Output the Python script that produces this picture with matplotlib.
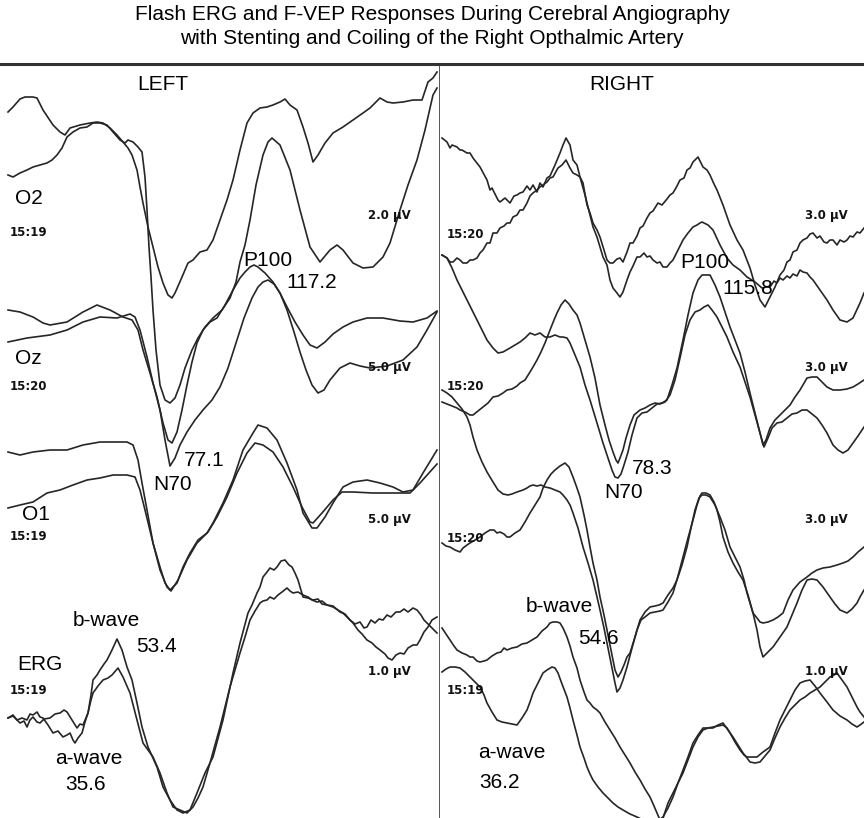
import matplotlib
matplotlib.use("Agg")
import matplotlib.pyplot as plt
import numpy as np

# Each trace is a list of (sample, level) pairs.
# sample = horizontal position in the sweep, level = vertical page position (grows downward)

# ---- LEFT eye ----
L_O2_A = [(8,112),(13,107),(20,99),(25,97),(33,97),(37,98),(43,110),(53,125),(60,132),(65,135),(70,128),
          (80,125),(90,123),(97,122),(103,123),(110,128),(117,135),(123,142),(128,148),(132,155),(137,170),
          (140,187),(143,203),(148,227),(153,247),(158,267),(163,283),(168,295),(172,298),(175,293),(182,277),
          (188,263),(193,260),(200,252),(207,250),(213,240),(220,220),(227,200),(233,180),(240,150),(247,123),
          (253,113),(260,108),(267,107),(273,105),(280,102),(285,99),(290,105),(297,110),(303,127),(308,143),
          (313,162),(318,155),(325,143),(333,133),(343,127),(353,120),(363,113),(370,108),(380,98),(387,102),
          (393,103),(403,102),(413,100),(422,100),(428,82),(433,78),(437,72)]
L_O2_B = [(8,175),(13,177),(20,173),(27,170),(33,167),(40,165),(47,163),(52,160),(57,155),(62,148),(67,137),
          (73,132),(80,128),(87,127),(93,123),(100,123),(107,125),(113,132),(120,140),(125,143),(128,140),
          (133,142),(138,147),(142,152),(145,177),(147,210),(149,247),(151,277),(153,310),(156,350),(160,385),
          (165,400),(170,403),(175,398),(180,385),(185,368),(192,350),(198,338),(205,327),(213,318),(222,310),
          (230,298),(236,282),(240,262),(245,245),(250,220),(256,185),(263,155),(268,142),(272,138),(280,145),
          (290,170),(300,210),(310,247),(320,262),(330,250),(337,245),(343,250),(353,263),(363,268),(373,267),
          (383,257),(390,243),(400,210),(408,185),(417,160),(425,130),(433,95),(437,88)]
L_OZ_A = [(8,310),(20,312),(33,317),(43,323),(50,325),(67,322),(83,312),(97,305),(110,310),(123,317),(132,320),
          (138,330),(143,350),(150,373),(157,397),(163,423),(168,440),(172,443),(177,432),(182,410),(187,385),
          (192,362),(197,343),(203,330),(210,322),(217,318),(225,305),(233,290),(240,278),(245,272),(250,267),
          (254,265),(258,267),(265,273),(273,282),(280,293),(287,307),(295,322),(303,335),(310,345),(317,348),
          (325,342),(333,334),(343,327),(353,322),(367,318),(383,318),(400,321),(413,322),(427,318),(437,311)]
L_OZ_B = [(8,342),(27,338),(50,335),(67,330),(83,322),(100,317),(117,318),(130,314),(135,317),(140,330),
          (147,357),(153,383),(160,410),(165,440),(170,466),(175,458),(180,445),(187,432),(195,420),(203,410),
          (212,400),(220,387),(228,368),(236,343),(244,318),(252,298),(258,287),(263,282),(268,280),(274,284),
          (280,293),(287,310),(294,332),(300,352),(306,370),(312,385),(318,393),(324,390),(330,380),(340,368),
          (350,363),(360,366),(370,368),(387,366),(403,360),(417,347),(427,330),(437,312)]
L_O1_A = [(8,452),(20,455),(33,452),(50,450),(67,450),(83,445),(100,442),(113,442),(127,442),(133,445),
          (138,460),(142,483),(147,510),(153,543),(160,567),(165,583),(170,590),(177,583),(183,567),(190,553),
          (198,540),(207,533),(213,523),(223,503),(233,480),(243,450),(253,433),(258,425),(267,428),(277,440),
          (287,463),(297,490),(303,513),(312,528),(317,528),(325,517),(333,503),(343,487),(353,482),(367,480),
          (380,483),(393,487),(403,492),(413,490),(423,473),(437,450)]
L_O1_B = [(8,508),(20,505),(33,502),(47,493),(60,490),(73,485),(87,480),(100,478),(113,475),(127,475),
          (135,477),(140,490),(145,510),(153,543),(160,570),(167,587),(171,591),(178,580),(187,560),(197,543),
          (208,532),(217,517),(227,497),(237,473),(247,453),(255,443),(263,445),(273,452),(283,467),(293,487),
          (302,507),(310,522),(313,523),(322,513),(333,500),(342,492),(353,492),(373,493),(390,493),(410,493),
          (420,483),(437,464)]
L_ERG_A = [(8,718),(13,715),(17,720),(20,723),(24,721),(27,727),(30,720),(33,717),(37,722),(40,723),(44,719),
           (50,718),(55,714),(60,713),(64,710),(67,712),(72,720),(77,728),(80,724),(83,725),(88,713),(91,695),
           (93,680),(97,675),(100,670),(104,664),(107,660),(112,650),(117,639),(122,650),(127,667),(132,680),
           (137,703),(142,727),(148,747),(157,767),(163,787),(170,800),(177,810),(183,813),(190,810),(197,793),
           (205,773),(213,757),(223,720),(233,673),(240,643),(244,628),(248,613),(252,605),(257,593),(260,587),
           (263,577),(267,572),(270,568),(274,570),(277,567),(281,561),(285,560),(289,565),(292,567),(295,573),
           (298,580),(303,597),(308,598),(313,600),(318,599),(322,604),(327,605),(333,606),(340,612),(345,614),
           (350,620),(353,623),(358,630),(362,634),(367,640),(372,643),(376,647),(380,650),(385,654),(388,658),
           (392,660),(396,655),(400,653),(404,654),(408,648),(413,645),(417,645),(420,640),(424,632),(428,627),
           (432,620),(437,617)]
L_ERG_B = [(8,718),(13,716),(17,720),(22,718),(27,720),(30,714),(33,715),(37,712),(40,717),(43,718),(48,725),
           (53,733),(58,731),(63,737),(67,735),(70,733),(73,740),(75,743),(78,738),(82,733),(85,722),(88,713),
           (91,700),(93,693),(98,686),(103,680),(108,678),(112,675),(118,668),(123,677),(130,693),(137,720),
           (143,743),(148,750),(153,757),(160,773),(167,793),(173,807),(180,810),(187,813),(193,807),(198,798),
           (203,787),(210,763),(215,745),(220,727),(225,707),(230,687),(235,670),(240,653),(245,637),(250,620),
           (255,611),(260,603),(263,601),(267,600),(270,597),(274,599),(278,595),(282,592),(287,588),(290,591),
           (293,593),(298,592),(303,595),(308,597),(312,600),(317,602),(322,601),(327,605),(333,607),(338,610),
           (343,613),(347,617),(350,620),(355,624),(360,622),(364,628),(367,627),(371,620),(375,623),(379,619),
           (383,620),(387,615),(391,617),(396,612),(400,612),(404,609),(408,612),(413,608),(417,610),(421,615),
           (424,620),(427,623),(431,627),(434,630),(437,633)]

# ---- RIGHT eye ----
R_O2_A = [(442,138),(447,142),(450,148),(452,145),(457,147),(460,150),(462,150),(467,153),(470,153),(473,158),
          (480,167),(487,180),(490,190),(492,188),(498,200),(500,202),(505,198),(510,203),(514,196),(517,195),
          (520,193),(523,192),(527,186),(530,190),(533,185),(537,192),(540,183),(543,187),(547,178),(550,176),
          (555,165),(560,153),(563,145),(566,138),(570,145),(573,160),(577,165),(580,177),(583,183),(587,205),
          (590,213),(593,223),(597,230),(600,237),(604,250),(607,260),(610,263),(613,263),(617,259),(620,258),
          (623,262),(627,252),(630,243),(633,243),(637,236),(640,228),(643,226),(647,218),(650,213),(653,211),
          (658,203),(662,205),(667,199),(670,195),(673,193),(677,186),(680,180),(684,178),(687,170),(690,168),
          (693,162),(698,157),(703,167),(707,170),(710,175),(714,184),(717,190),(723,205),(730,225),(737,240),
          (743,250),(750,268),(755,285),(760,300),(765,307),(770,297),(775,287),(780,275),(784,270),(787,262),
          (790,260),(793,252),(797,250),(800,243),(803,240),(807,238),(810,234),(813,233),(817,238),(820,236),
          (824,242),(827,243),(830,240),(833,240),(837,245),(840,240),(844,242),(847,240),(850,236),(853,237),
          (857,232),(860,233),(864,228)]
R_O2_B = [(442,255),(447,258),(450,262),(453,262),(457,258),(460,260),(463,263),(467,263),(470,260),(473,260),
          (477,258),(480,253),(483,250),(487,243),(490,243),(493,233),(497,233),(500,228),(504,226),(507,223),
          (510,223),(513,217),(517,215),(520,210),(523,210),(527,203),(530,196),(533,193),(537,190),(540,187),
          (543,185),(547,182),(550,178),(553,177),(558,168),(562,165),(566,160),(570,168),(573,173),(577,175),
          (580,177),(585,195),(590,215),(593,227),(597,237),(600,247),(603,257),(607,265),(610,280),(613,288),
          (617,293),(620,297),(623,292),(627,280),(630,272),(633,266),(637,257),(640,257),(644,253),(647,257),
          (650,256),(653,260),(657,263),(660,262),(663,267),(667,267),(670,263),(673,260),(678,250),(683,240),
          (688,233),(693,227),(697,225),(700,223),(702,222),(708,225),(713,230),(720,245),(727,258),(733,265),
          (740,270),(747,277),(755,282),(762,288),(766,287),(770,287),(774,281),(777,283),(780,278),(783,280),
          (787,276),(790,278),(793,274),(797,276),(800,270),(803,272),(807,273),(810,277),(813,280),(820,290),
          (827,300),(833,310),(840,320),(847,322),(853,318),(860,303),(864,293)]
R_OZ_A = [(442,255),(447,258),(452,268),(457,280),(462,290),(467,300),(472,310),(477,320),(482,330),(487,340),
          (493,348),(498,353),(503,352),(510,348),(515,345),(520,342),(525,338),(530,333),(535,335),(540,333),
          (545,337),(550,337),(555,335),(560,337),(563,337),(567,338),(570,343),(575,355),(580,367),(585,385),
          (590,400),(597,423),(603,443),(608,458),(612,470),(615,477),(618,478),(621,474),(624,465),(628,452),
          (632,435),(637,418),(642,413),(647,412),(652,408),(657,404),(662,403),(667,400),(672,385),(677,368),
          (683,340),(688,315),(693,293),(698,280),(702,275),(710,275),(715,285),(720,297),(725,312),(730,327),
          (735,340),(740,353),(745,372),(750,393),(755,413),(760,433),(763,445),(766,440),(770,428),(775,420),
          (780,415),(785,410),(790,405),(795,397),(800,390),(807,378),(812,377),(817,377),(822,382),(827,387),
          (833,390),(840,390),(847,389),(853,387),(858,384),(864,380)]
R_OZ_B = [(442,402),(447,404),(452,406),(457,408),(460,410),(465,412),(470,415),(473,415),(478,411),(483,407),
          (488,403),(493,397),(498,396),(503,393),(507,390),(512,389),(517,386),(520,383),(525,380),(530,372),
          (533,367),(537,360),(541,352),(545,343),(550,330),(554,320),(557,313),(561,305),(565,300),(569,304),
          (573,310),(577,315),(580,323),(585,340),(590,357),(595,378),(600,405),(605,425),(609,440),(613,452),
          (616,460),(618,463),(620,458),(623,450),(626,438),(630,425),(634,415),(640,410),(645,408),(650,405),
          (655,403),(660,404),(665,402),(670,395),(675,380),(680,358),(685,335),(690,320),(695,312),(700,310),
          (704,307),(708,305),(712,310),(717,317),(722,327),(727,337),(733,352),(740,367),(745,382),(750,397),
          (755,415),(760,433),(764,447),(768,438),(772,428),(777,423),(782,422),(787,418),(792,414),(797,413),
          (802,410),(807,410),(812,414),(817,418),(822,425),(827,433),(833,445),(838,450),(843,453),(848,450),
          (853,443),(858,436),(864,427)]
R_O1_A = [(442,390),(447,393),(452,397),(457,403),(462,409),(467,417),(470,425),(473,437),(477,450),(482,462),
          (487,472),(493,482),(498,490),(503,494),(508,495),(512,494),(517,492),(520,491),(523,490),(527,488),
          (530,486),(533,485),(537,486),(541,485),(545,487),(550,488),(555,490),(560,492),(563,495),(567,500),
          (570,505),(573,513),(578,528),(583,547),(588,563),(593,580),(597,597),(600,610),(604,628),(608,648),
          (612,668),(615,683),(617,692),(620,688),(623,680),(627,667),(632,648),(637,630),(641,620),(645,617),
          (650,613),(655,612),(660,611),(663,610),(668,602),(673,593),(678,576),(683,557),(688,538),(693,520),
          (697,505),(700,496),(702,493),(706,493),(710,495),(714,502),(717,510),(720,522),(723,537),(728,552),
          (733,563),(738,572),(743,580),(748,595),(753,613),(757,630),(760,647),(763,657),(767,653),(773,647),
          (780,637),(787,627),(792,615),(797,603),(802,590),(807,580),(812,579),(817,580),(823,587),(830,597),
          (835,604),(840,610),(847,613),(852,609),(857,603),(860,597),(864,590)]
R_O1_B = [(442,543),(446,546),(450,547),(455,550),(460,552),(463,548),(467,545),(470,543),(475,540),(480,537),
          (485,533),(490,530),(494,530),(497,533),(500,532),(504,534),(507,537),(510,537),(515,533),(520,530),
          (525,522),(530,513),(535,505),(540,497),(543,488),(547,480),(551,474),(555,470),(560,466),(565,463),
          (569,467),(573,477),(577,488),(580,497),(584,515),(587,530),(590,547),(593,563),(597,580),(600,597),
          (604,615),(608,635),(612,655),(615,670),(618,677),(621,672),(624,665),(627,657),(630,653),(635,637),
          (640,620),(645,612),(650,607),(655,606),(659,605),(663,603),(668,595),(673,588),(677,580),(682,565),
          (687,547),(691,528),(695,510),(699,498),(702,495),(706,495),(710,497),(715,505),(720,517),(725,530),
          (730,547),(735,557),(740,567),(744,580),(747,593),(750,603),(753,613),(757,618),(760,622),(763,623),
          (768,622),(773,620),(778,617),(783,613),(788,600),(793,590),(800,582),(807,577),(812,573),(817,570),
          (823,568),(830,567),(837,565),(843,563),(848,561),(853,557),(858,552),(864,547)]
R_ERG_A = [(442,628),(446,634),(450,640),(454,646),(457,650),(462,653),(467,655),(470,657),(473,657),(477,661),
           (480,662),(484,661),(487,660),(492,656),(497,653),(501,652),(504,648),(507,650),(512,648),(517,647),
           (522,644),(527,643),(532,640),(537,637),(542,631),(547,627),(550,623),(553,622),(557,622),(560,623),
           (563,628),(567,637),(570,646),(573,657),(577,668),(580,680),(584,692),(587,700),(590,703),(593,707),
           (597,710),(600,713),(605,722),(610,730),(615,738),(620,747),(625,755),(630,763),(635,772),(640,780),
           (645,789),(650,797),(654,806),(657,813),(660,820),(663,818),(668,803),(673,793),(678,783),(683,773),
           (688,760),(693,747),(698,737),(703,730),(708,728),(713,727),(718,726),(723,725),(727,728),(730,733),
           (735,742),(740,750),(744,755),(747,757),(752,757),(757,757),(763,752),(770,747),(775,733),(780,720),
           (785,710),(790,700),(795,690),(800,683),(805,681),(810,680),(815,686),(820,693),(827,702),(833,710),
           (840,716),(847,720),(852,724),(857,727),(860,725),(864,722)]
R_ERG_B = [(442,672),(446,669),(450,667),(455,667),(460,668),(465,672),(470,677),(475,682),(480,687),(484,695),
           (487,703),(492,712),(497,720),(502,722),(507,723),(512,724),(517,725),(522,718),(527,710),(530,702),
           (533,693),(538,683),(543,673),(547,670),(552,667),(555,668),(558,673),(562,684),(567,697),(570,708),
           (573,720),(577,735),(580,747),(584,758),(587,767),(590,774),(593,780),(598,787),(603,793),(608,798),
           (613,803),(618,807),(623,810),(630,814),(637,817),(645,821),(655,823),(663,817),(668,808),(673,797),
           (678,783),(683,770),(688,757),(693,743),(698,735),(703,728),(708,728),(713,728),(718,725),(723,723),
           (728,730),(733,737),(738,745),(743,753),(747,758),(750,762),(755,763),(760,762),(765,756),(770,750),
           (775,738),(780,727),(785,718),(790,710),(795,705),(800,700),(805,697),(810,693),(815,690),(820,687),
           (825,682),(830,677),(834,675),(837,673),(842,680),(847,687),(852,697),(857,707),(860,712),(864,717)]

LEFT_TRACES = [L_O2_A, L_O2_B, L_OZ_A, L_OZ_B, L_O1_A, L_O1_B, L_ERG_A, L_ERG_B]
RIGHT_TRACES = [R_O2_A, R_O2_B, R_OZ_A, R_OZ_B, R_O1_A, R_O1_B, R_ERG_A, R_ERG_B]

CHANNELS = ["O2", "Oz", "O1", "ERG"]
LEFT_TIMES = ["15:19", "15:20", "15:19", "15:19"]
RIGHT_TIMES = ["15:20", "15:20", "15:20", "15:19"]
LEFT_SCALES = ["2.0 µV", "5.0 µV", "5.0 µV", "1.0 µV"]
RIGHT_SCALES = ["3.0 µV", "3.0 µV", "3.0 µV", "1.0 µV"]
PEAKS = ["P100", "N70", "b-wave", "a-wave"]
LEFT_LATENCY = [117.2, 77.1, 53.4, 35.6]
RIGHT_LATENCY = [115.8, 78.3, 54.6, 36.2]

TITLE_LINES = ["Flash ERG and F-VEP Responses During Cerebral Angiography",
               "with Stenting and Coiling of the Right Opthalmic Artery"]

W, H = 864, 818
TOP = 64
INK = "#262626"
SANS = ["Liberation Sans", "DejaVu Sans"]

fig = plt.figure(figsize=(W / 100, H / 100), dpi=100)
for line, y in zip(TITLE_LINES, [15, 39]):
    fig.text(0.5, 1 - y / H, line, ha="center", va="center", fontsize=15, family=SANS)

ax_l = fig.add_axes([0, 0, 440 / W, (H - TOP) / H])
ax_r = fig.add_axes([440 / W, 0, (W - 440) / W, (H - TOP) / H])
ax_l.set_xlim(0, 440)
ax_r.set_xlim(440, W)

for ax, traces in [(ax_l, LEFT_TRACES), (ax_r, RIGHT_TRACES)]:
    ax.set_ylim(H, TOP)
    ax.set_xticks([])
    ax.set_yticks([])
    for sp in ax.spines.values():
        sp.set_visible(False)
    ax.spines["top"].set_visible(True)
    ax.spines["top"].set_linewidth(2.2)
    ax.spines["top"].set_color("#333333")
    for tr in traces:
        a = np.array(tr)
        ax.plot(a[:, 0], a[:, 1], color=INK, lw=1.2, solid_joinstyle="round")

ax_l.spines["right"].set_visible(True)
ax_l.spines["right"].set_linewidth(1.8)
ax_l.spines["right"].set_color("#222222")

big = dict(fontsize=15, family=SANS, color="black", va="center")
small = dict(fontsize=8.5, family="DejaVu Sans", weight="bold", color="#111111", va="center")

ax_l.text(163, 85, "LEFT", ha="center", **big)
ax_r.text(622, 85, "RIGHT", ha="center", **big)

# channel names only appear on the left side
name_pos = [(15, 199), (15, 358), (22, 515), (17, 665)]
for name, (x, y) in zip(CHANNELS, name_pos):
    ax_l.text(x, y, name, ha="left", **big)

row_y_left = [233, 387, 536, 690]
row_y_right = [234, 387, 539, 690]
scale_y = [216, 367, 520, 672]
for t, y in zip(LEFT_TIMES, row_y_left):
    ax_l.text(10, y, t, ha="left", **small)
for t, y in zip(RIGHT_TIMES, row_y_right):
    ax_r.text(447, y, t, ha="left", **small)
for s, y in zip(LEFT_SCALES, scale_y):
    ax_l.text(389, y, s, ha="center", **small)
for s, y in zip(RIGHT_SCALES, scale_y):
    ax_r.text(826, y, s, ha="center", **small)

# peak names and latencies (ms)
left_name_xy = [(268, 260), (173, 484), (106, 620), (89, 758)]
left_val_xy = [(312, 282), (204, 461), (156, 646), (86, 785)]
right_name_xy = [(705, 262), (624, 493), (559, 606), (512, 752)]
right_val_xy = [(748, 288), (652, 468), (598, 638), (500, 782)]
for ax, lat, nxy, vxy in [(ax_l, LEFT_LATENCY, left_name_xy, left_val_xy),
                          (ax_r, RIGHT_LATENCY, right_name_xy, right_val_xy)]:
    for pk, v, (nx, ny), (vx, vy) in zip(PEAKS, lat, nxy, vxy):
        ax.text(nx, ny, pk, ha="center", **big)
        ax.text(vx, vy, f"{v:.1f}", ha="center", **big)

fig.savefig("out.png", dpi=100)
